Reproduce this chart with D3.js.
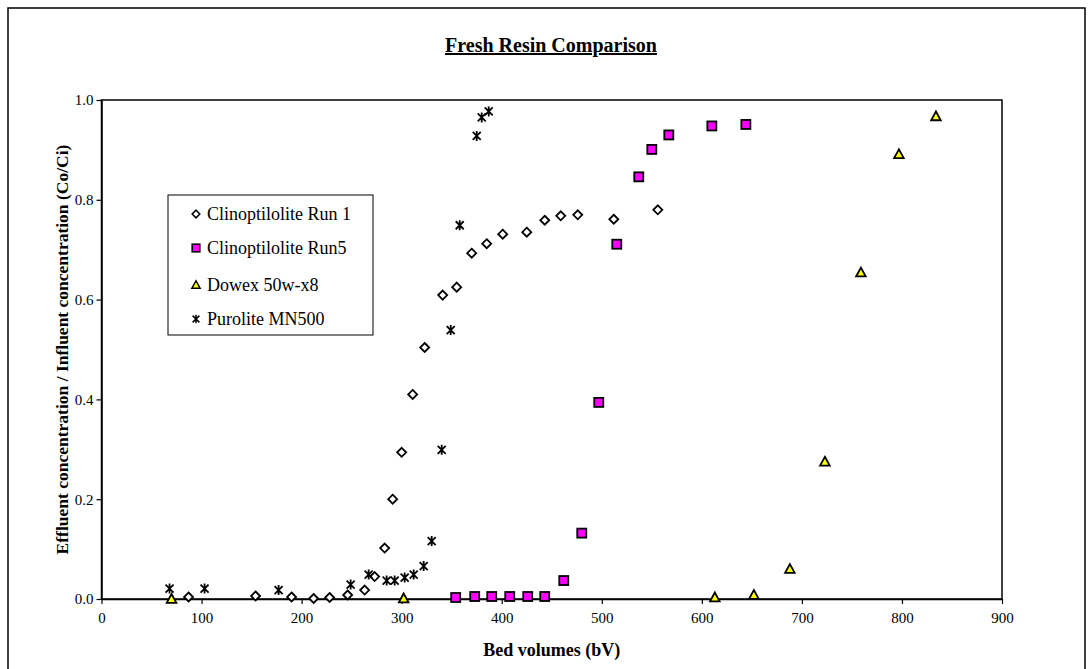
<!DOCTYPE html>
<html><head><meta charset="utf-8">
<script src="https://cdn.jsdelivr.net/npm/d3@7"></script>
<style>body{margin:0;background:#fff}svg{display:block}</style>
</head><body>
<svg id="c" width="1091" height="669"></svg>
<script>
const xTicks = [0,100,200,300,400,500,600,700,800,900];
const yTicks = [0,0.2,0.4,0.6,0.8,1.0];
const seriesNames = ["Clinoptilolite Run 1","Clinoptilolite Run5","Dowex 50w-x8","Purolite MN500"];

const run1X = [87,154,190,212,228,246,263,273,283,291,300,311,323,341,355,370,385,401,425,443,459,476,512,556];
const run1Y = [0.004,0.006,0.004,0.001,0.003,0.008,0.018,0.045,0.102,0.200,0.294,0.410,0.504,0.609,0.625,0.693,0.712,0.731,0.735,0.759,0.768,0.770,0.761,0.780];

const run5X = [354,373,390,408,426,443,462,480,497,515,537,550,567,610,644];
const run5Y = [0.003,0.005,0.005,0.005,0.005,0.005,0.037,0.132,0.394,0.711,0.846,0.901,0.930,0.948,0.951];

const dowexX = [70,302,613,652,688,723,759,797,834];
const dowexY = [0.000,0.001,0.003,0.008,0.060,0.275,0.654,0.891,0.967];

const purX = [68,103,177,249,267,285,293,303,312,322,330,340,349,358,375,380,387];
const purY = [0.021,0.021,0.018,0.029,0.049,0.037,0.037,0.043,0.049,0.066,0.116,0.299,0.539,0.749,0.928,0.965,0.977];

const svg = d3.select("#c");
const font = "'Liberation Serif','Times New Roman',serif";
const L = 101.5, R = 1002, T = 100, B = 599;
const x = d3.scaleLinear().domain([0,900]).range([L,R]);
const y = d3.scaleLinear().domain([0,1]).range([B,T]);

// outer frame
svg.append("rect").attr("x",8).attr("y",8).attr("width",1077).attr("height",700)
  .attr("fill","none").attr("stroke","#000").attr("stroke-width",1.5);

// title
svg.append("text").attr("x",551).attr("y",52).attr("text-anchor","middle")
  .attr("font-family",font).attr("font-weight","bold").attr("font-size",20)
  .attr("text-decoration","underline").text("Fresh Resin Comparison");

// plot box
svg.append("rect").attr("x",L).attr("y",T).attr("width",R-L).attr("height",B-T)
  .attr("fill","none").attr("stroke","#000").attr("stroke-width",1.5);

// axes
const xAxis = svg.append("g").attr("transform",`translate(0,${B})`)
  .call(d3.axisBottom(x).tickValues(xTicks).tickFormat(d3.format("d")).tickSize(5).tickSizeOuter(0).tickPadding(8));
const yAxis = svg.append("g").attr("transform",`translate(${L},0)`)
  .call(d3.axisLeft(y).tickValues(yTicks).tickFormat(d3.format(".1f")).tickSize(5).tickSizeOuter(0).tickPadding(3));
[xAxis,yAxis].forEach(a=>{
  a.select(".domain").attr("stroke","#000").attr("stroke-width",1.5);
  a.selectAll(".tick line").attr("stroke","#000").attr("stroke-width",1.2);
  a.selectAll(".tick text").attr("font-family",font).attr("font-size",15).attr("fill","#000");
});

// axis titles
svg.append("text").attr("x",(L+R)/2).attr("y",656).attr("text-anchor","middle")
  .attr("font-family",font).attr("font-weight","bold").attr("font-size",18).text("Bed volumes (bV)");
svg.append("text").attr("transform",`translate(68,${(T+B)/2}) rotate(-90)`).attr("text-anchor","middle")
  .attr("font-family",font).attr("font-weight","bold").attr("font-size",17.5)
  .text("Effluent concentration / Influent concentration (Co/Ci)");

// markers
function drawMarker(g, type){
  if(type===0){
    g.append("path").attr("d","M0,-4.5L4.5,0L0,4.5L-4.5,0Z").attr("fill","#fff").attr("stroke","#000").attr("stroke-width",1.8);
  } else if(type===1){
    g.append("rect").attr("x",-4.5).attr("y",-4.5).attr("width",9).attr("height",9)
      .attr("fill","#ff00ff").attr("stroke","#000").attr("stroke-width",1.8);
  } else if(type===2){
    g.append("path").attr("d","M0,-5L4.8,3.8L-4.8,3.8Z").attr("fill","#ffff00").attr("stroke","#000").attr("stroke-width",1.8);
  } else {
    g.append("path").attr("d","M-4,-4L4,4M4,-4L-4,4M0,-5L0,5").attr("stroke","#000").attr("stroke-width",1.8).attr("fill","none");
  }
}
const series = [[run1X,run1Y],[run5X,run5Y],[dowexX,dowexY],[purX,purY]];
series.forEach(([xs,ys],si)=>{
  const pts = xs.map((v,i)=>[v,ys[i]]);
  svg.append("g").selectAll("g").data(pts).join("g")
    .attr("transform",d=>`translate(${x(d[0])},${y(d[1])})`)
    .each(function(){ drawMarker(d3.select(this), si); });
});

// legend
const lg = svg.append("g");
lg.append("rect").attr("x",168).attr("y",195).attr("width",205).attr("height",140)
  .attr("fill","#fff").attr("stroke","#000").attr("stroke-width",1);
const rowY = [214,248,285,319];
seriesNames.forEach((n,i)=>{
  const g = lg.append("g").attr("transform",`translate(196,${rowY[i]})`);
  const m = g.append("g").attr("transform","scale(0.85)");
  drawMarker(m,i);
  g.append("text").attr("x",11).attr("y",6).attr("font-family",font).attr("font-size",18).text(n);
});
</script>
</body></html>
